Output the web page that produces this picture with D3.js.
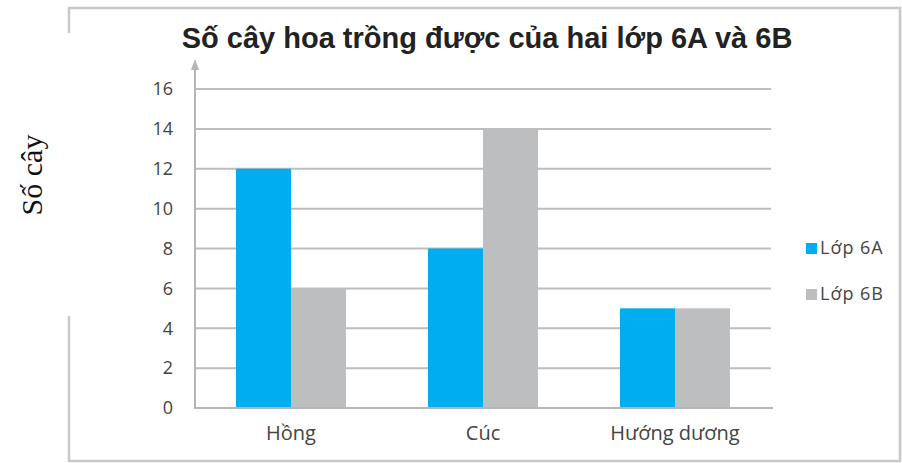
<!DOCTYPE html>
<html>
<head>
<meta charset="utf-8">
<script src="https://cdn.jsdelivr.net/npm/d3@7"></script>
<style>
  body { margin: 0; background: #fff; }
</style>
</head>
<body>
<svg></svg>
<script>
// chart data
const categories = ["Hồng", "Cúc", "Hướng dương"];
const series = ["Lớp 6A", "Lớp 6B"];
const lop6A = [12, 8, 5];
const lop6B = [6, 14, 5];
const yTicks = [0, 2, 4, 6, 8, 10, 12, 14, 16];
const colors = ["#00aeef", "#bcbec0"];

const width = 902, height = 463;
const plotLeft = 195, plotRight = 771, plotTop = 89, plotBottom = 408;
const labelFont = "'Open Sans', sans-serif";

const svg = d3.select("svg").attr("width", width).attr("height", height);

// outer frame (left side partly hidden behind the y label)
svg.append("path")
    .attr("d", "M69,33 V8 H900 V461 H69 V316")
    .attr("fill", "none").attr("stroke", "#c8c8c8").attr("stroke-width", 2.5);

const xScale = d3.scaleBand().domain(categories).range([plotLeft, plotRight]);
const xInner = d3.scaleBand().domain(series).range([0, 110]);
const yScale = d3.scaleLinear().domain([0, 16]).range([plotBottom, plotTop]);

// grid
svg.append("g").selectAll("line").data(yTicks.filter(d => d > 0)).enter().append("line")
    .attr("x1", plotLeft).attr("x2", plotRight)
    .attr("y1", d => yScale(d)).attr("y2", d => yScale(d))
    .attr("stroke", "#bdbdbd").attr("stroke-width", 2);

// y axis
const yAxis = d3.axisLeft(yScale).tickValues(yTicks).tickSize(0).tickPadding(22);
const gy = svg.append("g").attr("transform", "translate(" + plotLeft + ",0)").call(yAxis);
gy.select(".domain").remove();
gy.selectAll("text").attr("font-family", labelFont).attr("font-size", 18).attr("fill", "#444");

// bars
const rows = categories.map((c, i) => ({ cat: c, vals: [lop6A[i], lop6B[i]] }));
const groups = svg.selectAll(".grp").data(rows).enter().append("g")
    .attr("transform", d => "translate(" + (xScale(d.cat) + xScale.bandwidth() / 2 - 55) + ",0)");
groups.selectAll("rect").data(d => d.vals.map((v, j) => ({ s: series[j], v: v, j: j }))).enter().append("rect")
    .attr("x", d => xInner(d.s))
    .attr("width", xInner.bandwidth())
    .attr("y", d => yScale(d.v))
    .attr("height", d => yScale(0) - yScale(d.v))
    .attr("fill", d => colors[d.j]);

// axis lines + arrow
svg.append("line").attr("x1", plotLeft).attr("x2", plotLeft).attr("y1", 66).attr("y2", plotBottom)
    .attr("stroke", "#b5b5b5").attr("stroke-width", 2);
svg.append("path").attr("d", "M" + (plotLeft - 4) + ",70 L" + plotLeft + ",59 L" + (plotLeft + 4) + ",70 Z")
    .attr("fill", "#b5b5b5");
svg.append("line").attr("x1", plotLeft - 1).attr("x2", plotRight + 2).attr("y1", plotBottom).attr("y2", plotBottom)
    .attr("stroke", "#b5b5b5").attr("stroke-width", 2);

// x labels
const xAxis = d3.axisBottom(xScale).tickSize(0).tickPadding(18);
const gx = svg.append("g").attr("transform", "translate(0," + plotBottom + ")").call(xAxis);
gx.select(".domain").remove();
gx.selectAll("text").attr("font-family", labelFont).attr("font-size", 20).attr("fill", "#444");

// title
svg.append("text").attr("x", 487).attr("y", 48).attr("text-anchor", "middle")
    .attr("font-family", "'Liberation Sans', Arial, sans-serif").attr("font-weight", "bold")
    .attr("font-size", 29).attr("fill", "#222")
    .text("Số cây hoa trồng được của hai lớp 6A và 6B");

// y label
svg.append("text").attr("transform", "translate(42,175) rotate(-90)").attr("text-anchor", "middle")
    .attr("font-family", "'Liberation Serif', 'Times New Roman', serif")
    .attr("font-size", 30).attr("fill", "#111")
    .text("Số cây");

// legend
const leg = svg.selectAll(".leg").data(series).enter().append("g")
    .attr("transform", (d, i) => "translate(806," + (243 + i * 46) + ")");
leg.append("rect").attr("width", 11).attr("height", 11).attr("fill", (d, i) => colors[i]);
leg.append("text").attr("x", 14).attr("y", 11)
    .attr("font-family", labelFont).attr("font-size", 18).attr("letter-spacing", 1).attr("fill", "#444")
    .text(d => d);
</script>
</body>
</html>
